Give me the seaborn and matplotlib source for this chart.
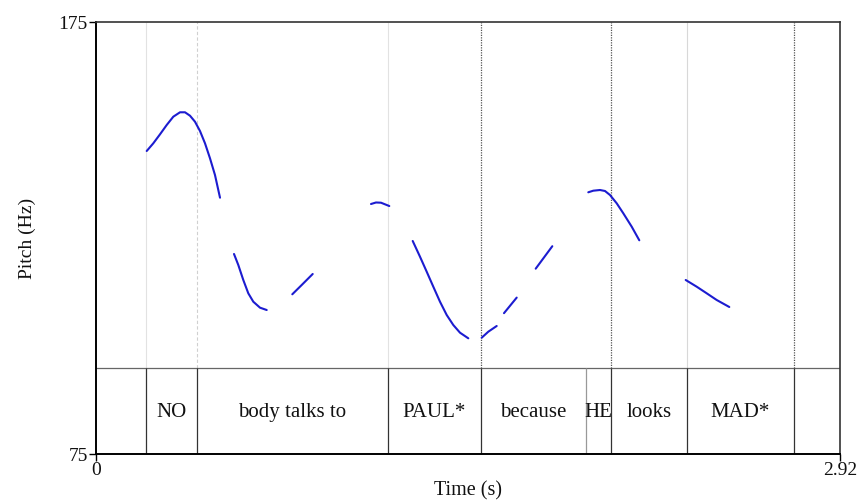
import matplotlib
matplotlib.use("Agg")
import matplotlib.pyplot as plt
import seaborn as sns
import pandas as pd

# ---- data ----
seg_times = [
    [0.1990, 0.2249, 0.2512, 0.2775, 0.3034, 0.3297, 0.3493, 0.3689, 0.3885,
     0.4081, 0.4278, 0.4474, 0.4670, 0.4867],
    [0.5416, 0.5585, 0.5781, 0.5977, 0.6174, 0.6437, 0.6700],
    [0.7704, 0.8073, 0.8505],
    [1.0793, 1.0989, 1.1185, 1.1511],
    [1.2430, 1.2716, 1.2979, 1.3238, 1.3501, 1.3764, 1.4023, 1.4286, 1.4612],
    [1.5138, 1.5397, 1.5726],
    [1.6013, 1.6511],
    [1.7257, 1.7909],
    [1.9321, 1.9517, 1.9780, 1.9977, 2.0173, 2.0436, 2.0695, 2.1025, 2.1323],
    [2.3144, 2.3575, 2.3968, 2.4360, 2.4855],
]
seg_pitch = [
    [145.14, 146.92, 149.00, 151.16, 153.08, 154.10, 154.10, 153.31, 151.92,
     149.77, 146.92, 143.45, 139.58, 134.33],
    [121.30, 118.75, 115.28, 112.20, 110.25, 108.87, 108.33],
    [111.97, 114.12, 116.67],
    [132.87, 133.22, 133.17, 132.40],
    [124.31, 120.67, 117.20, 113.73, 110.25, 107.18, 104.86, 103.08, 101.78],
    [101.92, 103.31, 104.63],
    [107.6, 111.2],
    [117.9, 123.1],
    [135.58, 135.95, 136.11, 135.88, 134.95, 133.03, 130.72, 127.62, 124.47],
    [115.28, 113.73, 112.20, 110.65, 109.03],
]
boundaries = [0.196, 0.396, 1.146, 1.511, 1.923, 2.021, 2.319, 2.739]
words = ["NO", "body talks to", "PAUL*", "because", "HE", "looks", "MAD*"]
x_range = [0, 2.92]
y_range = [75, 175]
xlabel = "Time (s)"
ylabel = "Pitch (Hz)"

# ---- build table ----
rows = []
for i, (ts, ps) in enumerate(zip(seg_times, seg_pitch)):
    for t, p in zip(ts, ps):
        rows.append({"time": t, "pitch": p, "seg": i})
df = pd.DataFrame(rows)

sns.set_theme(style="white")
plt.rcParams["font.family"] = ["Liberation Serif", "DejaVu Serif"]

fig = plt.figure(figsize=(8.6, 5.01), dpi=100)
ax = fig.add_axes([96 / 860, 47 / 501, 744 / 860, 432 / 501])

tier_top = 95.0

# upper boundary lines (only some)
upper_styles = {
    0: dict(color="#e2e2e2", ls="-", lw=0.8),
    1: dict(color="#d0d0d0", ls=(0, (3, 2)), lw=0.8),
    2: dict(color="#e2e2e2", ls="-", lw=0.8),
    3: dict(color="#555555", ls=(0, (1, 1)), lw=0.9),
    5: dict(color="#555555", ls=(0, (1, 1)), lw=0.9),
    6: dict(color="#d8d8d8", ls="-", lw=0.8),
    7: dict(color="#555555", ls=(0, (1, 1)), lw=0.9),
}
for i, st in upper_styles.items():
    ax.vlines(boundaries[i], tier_top, y_range[1], zorder=1, **st)

# tier
ax.axhline(tier_top, color="#666666", lw=0.9, zorder=2)
for i, b in enumerate(boundaries):
    c = "#999999" if i == 4 else "#333333"
    ax.vlines(b, y_range[0], tier_top, color=c, lw=0.9, zorder=2)
for i, w in enumerate(words):
    xc = (boundaries[i] + boundaries[i + 1]) / 2
    ax.text(xc, (y_range[0] + tier_top) / 2 - 0.5, w, ha="center", va="center",
            fontsize=15, color="#111111")

# pitch contour
sns.lineplot(data=df, x="time", y="pitch", units="seg", estimator=None,
             color="#1c1cd0", lw=1.5, ax=ax, zorder=3, sort=False)
for ln in ax.lines:
    ln.set_solid_joinstyle("round")
    ln.set_solid_capstyle("round")

ax.set_xlim(*x_range)
ax.set_ylim(*y_range)
ax.set_xticks(x_range)
ax.set_xticklabels(["0", "2.92"])
ax.set_yticks(y_range)
ax.set_yticklabels(["75", "175"])
ax.tick_params(axis="both", which="both", direction="out", length=5, width=1,
               color="black", labelsize=14, pad=1, left=True, bottom=True)
for lab in ax.get_yticklabels() + ax.get_xticklabels():
    lab.set_color("#111111")
ax.set_xlabel(xlabel, fontsize=14.5, color="#111111", labelpad=1.5)
ax.set_ylabel(ylabel, fontsize=14, color="#111111", labelpad=16)
for s in ["left", "bottom"]:
    ax.spines[s].set_color("black")
    ax.spines[s].set_linewidth(1.4)
for s in ["top", "right"]:
    ax.spines[s].set_color("#333333")
    ax.spines[s].set_linewidth(1.2)
ax.grid(False)

fig.savefig("out.png", dpi=100)
